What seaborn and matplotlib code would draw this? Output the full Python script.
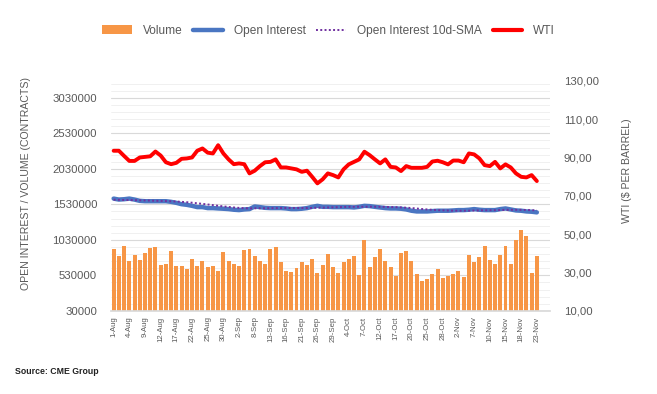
import numpy as np
import pandas as pd
import matplotlib
matplotlib.use("Agg")
import matplotlib.pyplot as plt
from matplotlib.lines import Line2D
from matplotlib.patches import Patch
import seaborn as sns

# ── Data ──────────────────────────────────────────────────────────────────────
AUG = [1, 2, 3, 4, 5, 8, 9, 10, 11, 12, 15, 16, 17, 18, 19, 22, 23, 24, 25, 26, 29, 30, 31]
SEP = [1, 2, 6, 7, 8, 9, 12, 13, 14, 15, 16, 19, 20, 21, 22, 23, 26, 27, 28, 29, 30]
OCT = [3, 4, 5, 6, 7, 10, 11, 12, 13, 14, 17, 18, 19, 20, 21, 24, 25, 26, 27, 28, 31]
NOV = [1, 2, 3, 4, 7, 8, 9, 10, 11, 14, 15, 16, 17, 18, 21, 22, 23]
dates = ([f"{d}-Aug" for d in AUG] + [f"{d}-Sep" for d in SEP]
         + [f"{d}-Oct" for d in OCT] + [f"{d}-Nov" for d in NOV])

volume = [898000, 801000, 940000, 731000, 815000, 745000, 847000, 912000, 926000, 676000,
          690000, 870000, 662000, 662000, 620000, 759000, 662000, 731000, 648000, 662000,
          592000, 856000, 731000, 690000, 662000, 884000, 898000, 801000, 731000, 690000,
          898000, 926000, 717000, 592000, 579000, 634000, 717000, 676000, 759000, 565000,
          676000, 829000, 648000, 565000, 717000, 759000, 801000, 537000, 1023000, 648000,
          787000, 898000, 731000, 648000, 523000, 842000, 870000, 731000, 551000, 454000,
          481000, 551000, 620000, 495000, 523000, 551000, 592000, 509000, 815000, 717000,
          787000, 940000, 745000, 690000, 815000, 940000, 690000, 1023000, 1162000, 1079000,
          565000, 801000]

open_interest = [1611000, 1597000, 1602000, 1611000, 1597000, 1579000, 1574000, 1574000, 1574000, 1574000,
                 1574000, 1565000, 1551000, 1532000, 1523000, 1509000, 1491000, 1491000, 1477000, 1477000,
                 1472000, 1468000, 1463000, 1454000, 1449000, 1458000, 1463000, 1500000, 1491000, 1481000,
                 1477000, 1477000, 1477000, 1472000, 1463000, 1463000, 1468000, 1477000, 1495000, 1509000,
                 1495000, 1495000, 1491000, 1491000, 1491000, 1491000, 1486000, 1495000, 1509000, 1505000,
                 1495000, 1486000, 1477000, 1472000, 1472000, 1468000, 1458000, 1440000, 1430000, 1430000,
                 1430000, 1435000, 1440000, 1440000, 1440000, 1444000, 1449000, 1449000, 1454000, 1463000,
                 1454000, 1449000, 1449000, 1449000, 1463000, 1472000, 1458000, 1444000, 1440000, 1430000,
                 1426000, 1417000]

oi_sma = [1595000, 1593000, 1591000, 1590000, 1589000, 1587000, 1585000, 1583000, 1580000, 1578000,
          1576000, 1573000, 1570000, 1565000, 1560000, 1553000, 1545000, 1537000, 1528000, 1519000,
          1510000, 1501000, 1493000, 1486000, 1480000, 1476000, 1473000, 1474000, 1475000, 1475000,
          1476000, 1477000, 1478000, 1479000, 1479000, 1479000, 1479000, 1478000, 1479000, 1482000,
          1484000, 1486000, 1488000, 1490000, 1493000, 1495000, 1496000, 1496000, 1496000, 1496000,
          1496000, 1495000, 1494000, 1492000, 1490000, 1487000, 1483000, 1478000, 1471000, 1464000,
          1458000, 1453000, 1449000, 1446000, 1443000, 1441000, 1440000, 1440000, 1441000, 1443000,
          1445000, 1446000, 1447000, 1448000, 1450000, 1452000, 1453000, 1453000, 1452000, 1451000,
          1448000, 1445000]

wti = [93.5, 93.5, 90.8, 88.2, 88.2, 90.0, 90.3, 90.6, 93.1, 91.0,
       87.5, 86.5, 87.2, 89.3, 89.5, 90.0, 93.5, 94.7, 92.5, 92.1,
       96.4, 92.1, 89.0, 86.5, 86.9, 86.5, 81.7, 83.1, 85.5, 87.5,
       87.7, 89.0, 84.8, 84.8, 84.3, 83.8, 82.5, 83.1, 79.9, 76.5,
       78.6, 81.7, 80.8, 79.6, 83.8, 86.4, 87.7, 89.0, 93.0, 91.2,
       89.0, 86.9, 89.0, 85.1, 84.8, 82.9, 85.5, 84.6, 84.6, 84.6,
       85.1, 87.9, 88.3, 87.5, 86.4, 88.4, 88.4, 87.5, 92.1, 91.6,
       89.5, 86.0, 85.5, 87.7, 84.3, 86.4, 84.8, 81.7, 79.9, 79.6,
       80.8, 77.7]

left_ticks = [30000, 530000, 1030000, 1530000, 2030000, 2530000, 3030000]
right_ticks = [10, 30, 50, 70, 90, 110, 130]

# ── Style ─────────────────────────────────────────────────────────────────────
sns.set_theme(style="white")
plt.rcParams["font.family"] = ["Liberation Sans", "DejaVu Sans"]
GREY = "#595959"
ORANGE = "#F79646"
BLUE = "#4A76C2"
PURPLE = "#7030A0"
RED = "#FF0000"

df = pd.DataFrame({"date": dates, "volume": volume, "oi": open_interest,
                   "sma": oi_sma, "wti": wti})
df["pos"] = np.arange(len(df))

fig, ax = plt.subplots(figsize=(6.57, 3.94), dpi=100)
fig.subplots_adjust(left=0.169, right=0.837, bottom=0.211, top=0.795)

sns.barplot(data=df, x="date", y="volume", color=ORANGE, saturation=1,
            width=0.76, linewidth=0, edgecolor=ORANGE, ax=ax, zorder=2)
sns.lineplot(data=df, x="pos", y="oi", color=BLUE, lw=3.2, ax=ax, zorder=3)
sns.lineplot(data=df, x="pos", y="sma", color=PURPLE, lw=1.4, ls=(0, (1, 1.2)),
             ax=ax, zorder=4)

ax.set_xlim(-0.5, 83.5)
ax.set_ylim(30000, 3270000)
ax.set_yticks(left_ticks)
ax.set_yticklabels([str(v) for v in left_ticks])
ax.set_yticks(np.arange(30000, 3270000, 100000), minor=True)
ax.grid(which="major", axis="y", color="#d9d9d9", lw=0.8)
ax.grid(which="minor", axis="y", color="#eeeeee", lw=0.6)
ax.set_axisbelow(True)

ax.set_xticks(df["pos"][::3])
ax.set_xticklabels(df["date"][::3], rotation=90)
ax.set_xticks(np.arange(-0.5, 84, 1), minor=True)
ax.tick_params(axis="x", which="major", length=0, pad=4, labelsize=5.6, labelcolor=GREY)
ax.tick_params(axis="x", which="minor", length=3, color="#bfbfbf", width=0.6)
ax.tick_params(axis="y", which="both", length=0, pad=10, labelsize=8.2, labelcolor=GREY)
ax.set_xlabel("")
ax.set_ylabel("")
for s in ["top", "left", "right"]:
    ax.spines[s].set_visible(False)
ax.spines["bottom"].set_color("#d9d9d9")

ax2 = ax.twinx()
sns.lineplot(data=df, x="pos", y="wti", color=RED, lw=2.8, ax=ax2, zorder=5)
ax2.set_ylim(10, 130)
ax2.set_yticks(right_ticks)
ax2.set_yticklabels([f"{v:.2f}".replace(".", ",") for v in right_ticks])
ax2.tick_params(axis="y", length=0, pad=10, labelsize=8.2, labelcolor=GREY)
ax2.set_ylabel("")
for s in ax2.spines.values():
    s.set_visible(False)

fig.text(26 / 657, 1 - 184 / 394, "OPEN INTEREST / VOLUME (CONTRACTS)", rotation=90,
         ha="center", va="center", fontsize=7.6, color=GREY)
fig.text(627 / 657, 1 - 171 / 394, "WTI ($ PER BARREL)", rotation=90,
         ha="center", va="center", fontsize=7.6, color=GREY)
fig.text(15 / 657, 1 - 372 / 394, "Source: CME Group", ha="left", va="center",
         fontsize=6.3, fontweight="bold", color="#222222")

handles = [Patch(facecolor=ORANGE, edgecolor="none"),
           Line2D([], [], color=BLUE, lw=3.2),
           Line2D([], [], color=PURPLE, lw=1.4, ls=(0, (1, 1.2))),
           Line2D([], [], color=RED, lw=3)]
labels = ["Volume", "Open Interest", "Open Interest 10d-SMA", "WTI"]
fig.legend(handles, labels, loc="center", bbox_to_anchor=(0.5, 1 - 31 / 394), ncol=4,
           frameon=False, fontsize=8.6, labelcolor=GREY, handlelength=2.5,
           handleheight=0.8, handletextpad=0.9, columnspacing=0.9)

fig.savefig("out.png", dpi=100)
